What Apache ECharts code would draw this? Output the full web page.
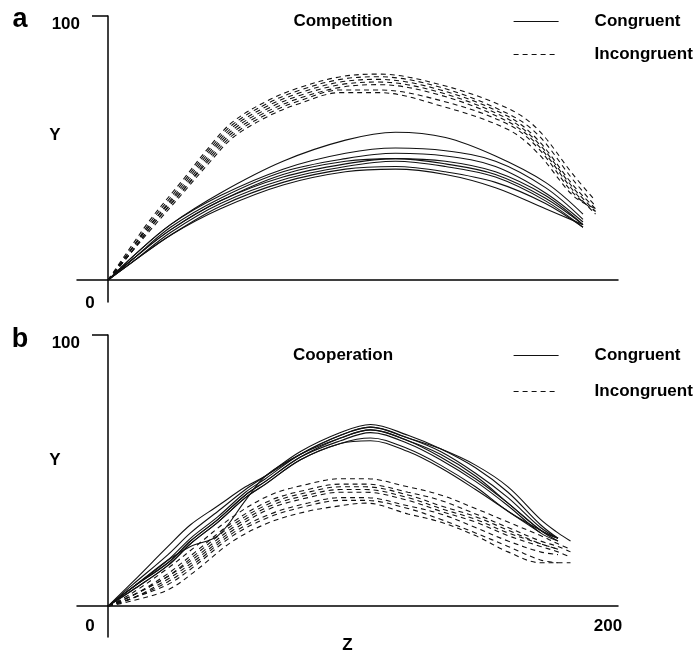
<!DOCTYPE html>
<html>
<head>
<meta charset="utf-8">
<script src="https://cdn.jsdelivr.net/npm/echarts@6/dist/echarts.min.js"></script>
<style>
html,body{margin:0;padding:0;background:#fff;}
#chart{width:698px;height:651px;}
</style>
</head>
<body>
<div id="chart"></div>
<script>
// ---------- DATA ----------
// Panel a: Competition
const zCompCong = [0, 10, 25, 45, 70, 95, 115, 135, 155, 175, 190];
const compCongY = [
  [0, 9, 21, 33, 45, 53, 56, 54, 47, 37, 25],
  [0, 9, 21, 32, 42, 48, 50, 49, 45, 35, 23],
  [0, 8, 20, 31, 41, 46, 48, 47, 43, 33, 22],
  [0, 8, 19, 30, 40, 45, 46, 45, 41, 32, 21],
  [0, 8, 19, 30, 39, 44, 46, 44, 40, 31, 21],
  [0, 7, 18, 29, 38, 43, 45, 43, 39, 30, 20],
  [0, 7, 17, 28, 37, 42, 43, 41, 37, 29, 20],
  [0, 7, 17, 27, 36, 41, 42, 40, 35, 27, 21]
];
const zCompInc = [0, 8, 17, 30, 41, 50, 64, 77, 93, 108, 133, 160, 172, 186, 195];
const compIncY = [
  [0, 11, 23, 38, 51, 60, 68, 73, 77, 78, 74, 65, 57, 40, 30],
  [0, 10, 22, 37, 50, 59, 67, 72, 76, 77, 73, 63, 55, 38, 28],
  [0, 10, 21, 36, 49, 58, 66, 71, 75, 76, 72, 62, 53, 36, 27],
  [0, 10, 21, 35, 48, 57, 65, 70, 74, 75, 71, 61, 52, 35, 26],
  [0, 9, 20, 34, 47, 56, 64, 69, 73, 74, 70, 60, 51, 34, 25],
  [0, 9, 20, 34, 46, 55, 63, 68, 72, 72, 68, 59, 50, 33, 26],
  [0, 9, 19, 33, 45, 54, 62, 67, 71, 71, 66, 57, 48, 32, 27]
];
// Panel b: Cooperation
const zCoopCong = [0, 10, 24, 33, 44, 55, 63, 77, 93, 105, 120, 133, 147, 160, 173, 180, 185];
const coopCongY = [
  [0, 9, 22, 30, 37, 44, 48, 56, 63, 66, 62, 58, 52, 44, 32, 27, 24],
  [0, 8, 19, 27, 35, 43, 48, 57, 64, 67, 63, 58, 51, 42, 30, 25, null],
  [0, 7, 17, 25, 33, 42, 47, 56, 63, 66, 62, 57, 49, 40, 29, 25, null],
  [0, 7, 16, 24, 32, 41, 46, 55, 62, 65, 61, 55, 47, 38, 28, 24, null],
  [0, 7, 16, 24, 32, 41, 46, 55, 61, 64, 60, 54, 46, 37, 27, 24, null],
  [0, 6, 15, 23, 31, 40, 45, 54, 60, 62, 58, 52, 44, 35, 28, 25, null],
  [0, 6, 15, 23, 31, 40, 45, 54, 60, 61, 57, 51, 43, 35, 27, null, null],
  [0, 7, 17, 22, 26, 39, 48, 56, 62, 65, 61, 56, 48, 38, 28, 25, null]
];
const zCoopInc = [0, 10, 24, 35, 50, 65, 80, 93, 103, 120, 133, 147, 160, 173, 180, 185];
const coopIncY = [
  [0, 5, 14, 22, 33, 41, 45, 47, 47, 44, 41, 36, 31, 26, 23, 21],
  [0, 4, 12, 20, 31, 39, 43, 45, 45, 42, 39, 34, 29, 24, 22, 20],
  [0, 4, 11, 19, 30, 38, 42, 44, 44, 41, 37, 33, 28, 23, 21, null],
  [0, 4, 11, 18, 29, 37, 41, 43, 43, 40, 36, 32, 27, 23, 21, null],
  [0, 3, 10, 17, 28, 36, 40, 42, 42, 39, 35, 31, 26, 22, 20, 18],
  [0, 3, 9, 16, 27, 34, 38, 40, 40, 37, 34, 29, 24, 20, 19, null],
  [0, 3, 8, 15, 26, 33, 37, 39, 39, 36, 32, 27, 22, 17, 16, null],
  [0, 2, 6, 13, 24, 31, 35, 37, 38, 34, 31, 26, 20, 16, 16, 16]
];
const legendNames = ['Congruent', 'Incongruent'];
const panelTitles = ['Competition', 'Cooperation'];
const panelLetters = ['a', 'b'];
const yTickLabels = [100];
const xTickLabelsTop = [0];
const xTickLabelsBottom = [0, 200];

// ---------- CHART ----------
const FONT = '"Liberation Sans", Arial, sans-serif';
const INK = '#111';
const DASH = [5, 4];
const chart = echarts.init(document.getElementById('chart'), null, {renderer: 'canvas'});

function mk(zs, ysList, name, dashed, idx) {
  return ysList.map(ys => ({
    type: 'line',
    name: name,
    xAxisIndex: idx,
    yAxisIndex: idx,
    smooth: 0.35,
    symbol: 'none',
    silent: true,
    color: INK,
    itemStyle: {color: INK},
    lineStyle: {color: INK, width: 1.1, type: dashed ? DASH : 'solid'},
    data: zs.map((z, i) => ys[i] == null ? null : [z, ys[i]]).filter(p => p)
  }));
}

const series = [].concat(
  mk(zCompCong, compCongY, legendNames[0], false, 0),
  mk(zCompInc, compIncY, legendNames[1], true, 0),
  mk(zCoopCong, coopCongY, legendNames[0], false, 1),
  mk(zCoopInc, coopIncY, legendNames[1], true, 1)
);

const axisLine = {show: true, onZero: true, lineStyle: {color: '#000', width: 1.5}};
const labelStyle = {color: '#000', fontSize: 17, fontWeight: 'bold', fontFamily: FONT};

function xAxis(idx, vals, margin, withName, nameGap) {
  return {
    type: 'value', gridIndex: idx, min: -12.4, max: 204,
    axisLine: axisLine,
    axisTick: {show: false},
    splitLine: {show: false},
    axisLabel: Object.assign({}, labelStyle, {
      customValues: vals,
      margin: margin,
      formatter: v => v === 0 ? '{o|0}' : '{t|' + v + '}',
      rich: {
        o: Object.assign({}, labelStyle, {padding: [0, 36, 0, 0]}),
        t: Object.assign({}, labelStyle)
      }
    }),
    name: withName ? 'Z' : '',
    nameLocation: 'middle',
    nameGap: nameGap,
    nameTextStyle: labelStyle
  };
}
function yAxis(idx, min) {
  return {
    type: 'value', gridIndex: idx, min: min, max: 100,
    axisLine: axisLine,
    axisTick: {show: true, customValues: yTickLabels, length: 16, lineStyle: {color: '#000', width: 1.5}},
    splitLine: {show: false},
    axisLabel: Object.assign({}, labelStyle, {
      customValues: yTickLabels, margin: -3, verticalAlign: 'top'
    })
  };
}

function legend(top, gap) {
  return {
    data: legendNames, orient: 'vertical', left: 508, top: top,
    itemWidth: 45, itemHeight: 14, itemGap: gap,
    selectedMode: false,
    itemStyle: {opacity: 0},
    lineStyle: {color: INK, width: 1.2},
    textStyle: Object.assign({}, labelStyle, {padding: [0, 0, 0, 31]})
  };
}

function txt(x, y, s, size) {
  return {
    type: 'text', x: x, y: y, silent: true,
    style: {text: s, fill: '#000', font: 'bold ' + size + 'px ' + FONT, textAlign: 'center', textVerticalAlign: 'middle'}
  };
}

chart.setOption({
  animation: false,
  backgroundColor: '#fff',
  grid: [
    {left: 77, width: 541, top: 16, height: 286, containLabel: false, outerBoundsMode: 'none'},
    {left: 77, width: 541, top: 335, height: 302, containLabel: false, outerBoundsMode: 'none'}
  ],
  xAxis: [xAxis(0, xTickLabelsTop, -7, false, 0), xAxis(1, xTickLabelsBottom, -19, true, 0)],
  yAxis: [yAxis(0, -8.3), yAxis(1, -11.4)],
  legend: [legend(8, 16), legend(342, 19)],
  graphic: [
    txt(20, 20, panelLetters[0], 27),
    txt(20, 340, panelLetters[1], 27),
    txt(343, 21, panelTitles[0], 17),
    txt(343, 355, panelTitles[1], 17),
    txt(55, 135, 'Y', 17),
    txt(55, 460, 'Y', 17)
  ],
  series: series
});
</script>
</body>
</html>
